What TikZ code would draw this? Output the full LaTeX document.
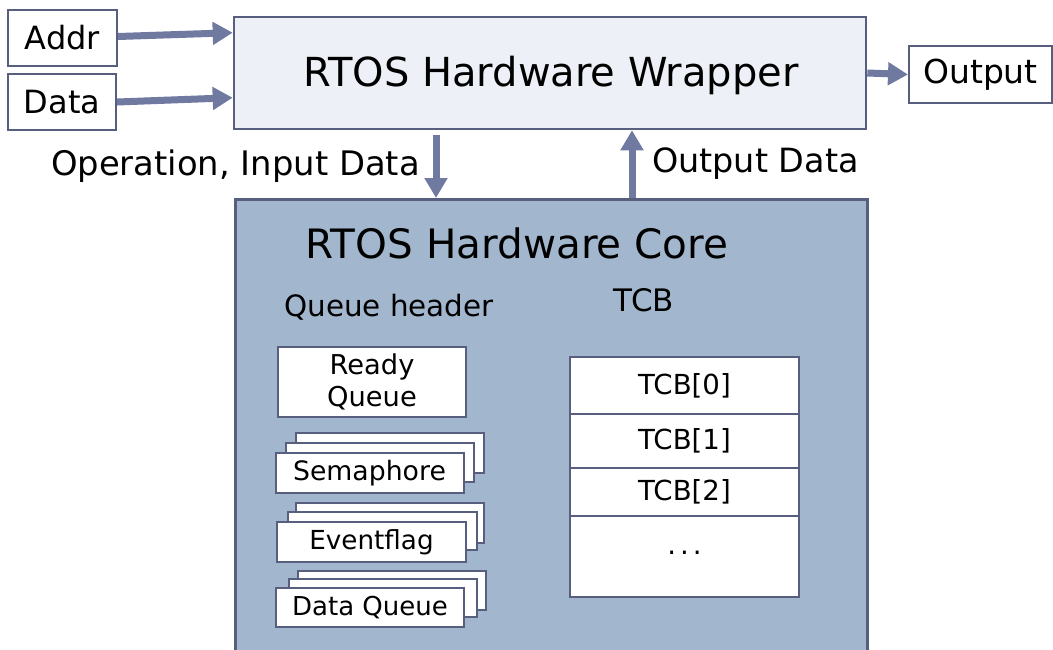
\documentclass[tikz,border=0pt]{standalone}
\usepackage{fontspec}
\setmainfont{DejaVu Sans}
\usetikzlibrary{arrows.meta,calc}
\definecolor{bd}{RGB}{88,94,126}
\definecolor{arc}{RGB}{112,121,160}
\definecolor{wrapfill}{RGB}{237,241,247}
\definecolor{corefill}{RGB}{162,183,206}
\newcommand{\fs}[1]{\fontsize{#1}{#1}\selectfont}
\tikzset{
  wbox/.style={draw=bd, fill=white, line width=2pt, inner sep=0pt, text=black},
  tcbcell/.style={wbox, outer sep=0pt, minimum width=229pt, font=\fs{27.6}, anchor=north west},
  bigbox/.style={draw=bd, line width=2.6pt, inner sep=0pt},
  arr/.style={draw=arc, line width=7pt, -{Triangle[width=22pt 0 0,length=20pt 0 0]}},
  lbl/.style={inner sep=0pt, text=black},
}
\begin{document}
\begin{tikzpicture}[x=1pt,y=-1pt]
\clip (0,0) rectangle (1053,649);
\useasboundingbox (0,0) rectangle (1053,649);
\fill[white] (0,0) rectangle (1053,649);

% inputs / output
\node[wbox, minimum width=109pt, minimum height=56pt, font=\fs{32}] (addr) at (62.5,38) {Addr};
\node[wbox, minimum width=108pt, minimum height=56pt, font=\fs{32}] (data) at (62,102) {Data};
\node[bigbox, fill=wrapfill, minimum width=632pt, minimum height=112pt] (wrapper) at (550,73) {};
\node[lbl, font=\fs{40}] (wraptext) at (551,75) {RTOS Hardware Wrapper};
\node[wbox, minimum width=143pt, minimum height=57pt, font=\fs{33}] (output) at (980.5,74.5) {Output};

% core
\node[bigbox, fill=corefill, minimum width=632pt, minimum height=480pt, anchor=north west] (core) at (234,198) {};
\node[lbl, font=\fs{40.5}] (coretext) at (517,243) {RTOS Hardware Core};
\node[lbl, font=\fs{29.4}] (qh) at (389,307) {Queue header};
\node[lbl, font=\fs{31}] (tcbt) at (644,300) {TCB};

% arrows
\draw[arr] ($(addr.east)+(0,-1.5)$) -- ($(wrapper.north west)+(0,17)$);
\draw[arr] (data.east) -- ($(wrapper.north west)+(0,82)$);
\draw[arr] (wrapper.east) -- (output.west);
\coordinate (dstart) at (436,135);
\draw[arr] (dstart) -- (dstart |- core.north);
\coordinate (ustart) at (632,198);
\draw[arr] (ustart) -- (ustart |- wrapper.south);
\node[lbl, font=\fs{33.8}, anchor=east] (oplbl) at (420,166) {Operation, Input Data};
\node[lbl, font=\fs{33.4}, anchor=west] (outlbl) at (652,164) {Output Data};

% queue headers
\node[wbox, minimum width=188pt, minimum height=70pt, font=\fs{27.3}, align=center] (ready) at (372,382) {Ready\\[4pt]Queue};

\node[wbox, minimum width=188pt, minimum height=40pt] (sem3) at (389.5,452.5) {};
\node[wbox, minimum width=188pt, minimum height=39pt] (sem2) at (380,462.5) {};
\node[wbox, minimum width=188pt, minimum height=40pt, font=\fs{26.7}] (sem) at (369.5,473) {Semaphore};

\node[wbox, minimum width=188pt, minimum height=40pt] (evt3) at (390,523) {};
\node[wbox, minimum width=189pt, minimum height=38pt] (evt2) at (382.5,531) {};
\node[wbox, minimum width=189pt, minimum height=40pt, font=\fs{26.2}] (evt) at (371.5,542) {Eventflag};

\node[wbox, minimum width=188pt, minimum height=39pt] (dq3) at (392,590.5) {};
\node[wbox, minimum width=188pt, minimum height=38pt] (dq2) at (383,598) {};
\node[wbox, minimum width=188pt, minimum height=39pt, font=\fs{26}] (dq) at (370,607.5) {Data Queue};

% TCB table
\node[tcbcell, minimum height=57pt] (tcb0) at (570,357) {TCB[0]};
\node[tcbcell, minimum height=54pt] (tcb1) at (tcb0.south west) {TCB[1]};
\node[tcbcell, minimum height=48pt] (tcb2) at (tcb1.south west) {TCB[2]};
\node[tcbcell, minimum height=81pt] (tcbd) at (tcb2.south west) {\raisebox{7pt}{.\kern4pt.\kern4pt.}};
\end{tikzpicture}
\end{document}
